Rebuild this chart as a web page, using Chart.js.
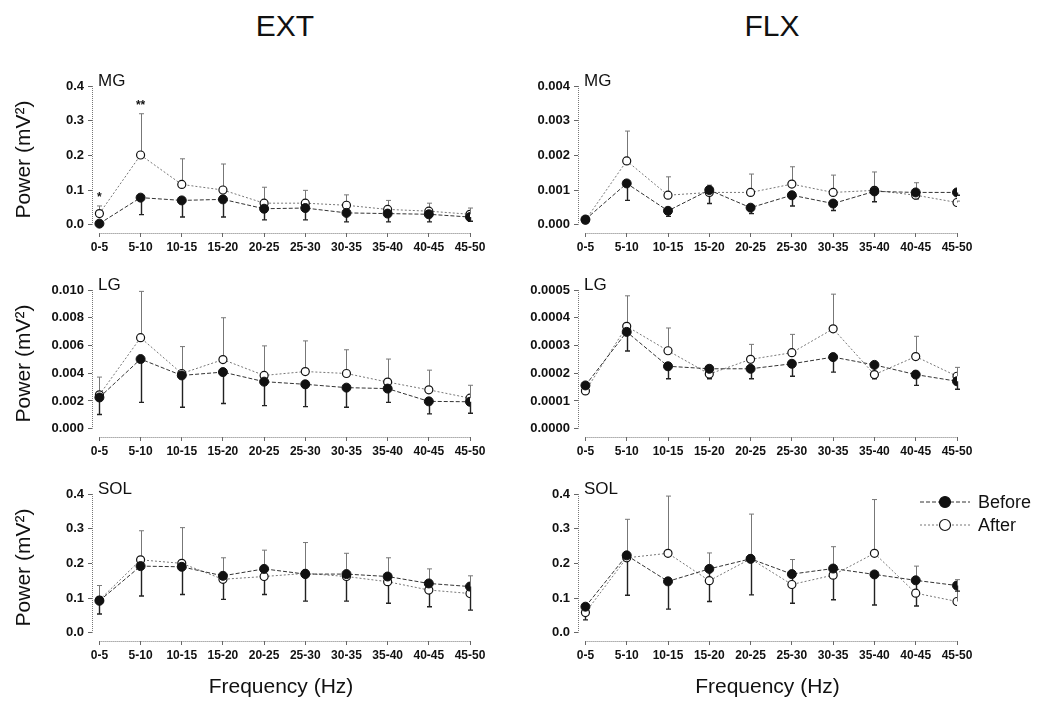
<!DOCTYPE html>
<html>
<head>
<meta charset="utf-8">
<title>EXT / FLX power spectra</title>
<script src="https://cdn.jsdelivr.net/npm/chart.js@4.4.0/dist/chart.umd.min.js"></script>
<style>
  html, body { margin: 0; padding: 0; background: #fff; }
  body { width: 1037px; height: 702px; position: relative; overflow: hidden;
         font-family: "Liberation Sans", Arial, sans-serif; color: #111; }
  .col-title { position: absolute; top: 11px; width: 200px; text-align: center;
               font-size: 30px; line-height: 30px; }
  canvas { position: absolute; }
</style>
</head>
<body>
<div class="col-title" style="left:185px">EXT</div>
<div class="col-title" style="left:672px">FLX</div>

<canvas id="extMg"></canvas>
<canvas id="flxMg"></canvas>
<canvas id="extLg"></canvas>
<canvas id="flxLg"></canvas>
<canvas id="extSol"></canvas>
<canvas id="flxSol"></canvas>

<script>
const categories = ['0-5', '5-10', '10-15', '15-20', '20-25', '25-30', '30-35', '35-40', '40-45', '45-50'];

// EXT - MG
const extMgBefore   = [0.003, 0.078, 0.070, 0.073, 0.046, 0.048, 0.034, 0.032, 0.030, 0.022];
const extMgBeforeLo = [0.000, 0.029, 0.022, 0.022, 0.014, 0.014, 0.008, 0.008, 0.008, 0.010];
const extMgAfter    = [0.032, 0.201, 0.116, 0.100, 0.062, 0.062, 0.056, 0.044, 0.039, 0.030];
const extMgAfterHi  = [0.054, 0.320, 0.190, 0.175, 0.108, 0.099, 0.086, 0.070, 0.062, 0.048];
const extMgSig      = ['*', '**', '', '', '', '', '', '', '', ''];
const extMgTicks    = [0, 0.1, 0.2, 0.3, 0.4];

// FLX - MG
const flxMgBefore   = [0.00015, 0.00119, 0.00040, 0.00100, 0.00049, 0.00085, 0.00061, 0.00096, 0.00093, 0.00093];
const flxMgBeforeLo = [0.00010, 0.00070, 0.00024, 0.00061, 0.00032, 0.00054, 0.00041, 0.00066, 0.00075, 0.00085];
const flxMgAfter    = [0.00013, 0.00184, 0.00085, 0.00093, 0.00093, 0.00117, 0.00093, 0.00099, 0.00085, 0.00064];
const flxMgAfterHi  = [0.00020, 0.00270, 0.00138, 0.00114, 0.00146, 0.00167, 0.00143, 0.00152, 0.00121, 0.00068];
const flxMgTicks    = [0, 0.001, 0.002, 0.003, 0.004];

// EXT - LG
const extLgBefore   = [0.00225, 0.00502, 0.00384, 0.00408, 0.00339, 0.00320, 0.00296, 0.00289, 0.00197, 0.00194];
const extLgBeforeLo = [0.00102, 0.00190, 0.00154, 0.00182, 0.00166, 0.00159, 0.00154, 0.00190, 0.00107, 0.00111];
const extLgAfter    = [0.00244, 0.00656, 0.00398, 0.00498, 0.00384, 0.00412, 0.00398, 0.00336, 0.00280, 0.00220];
const extLgAfterHi  = [0.00372, 0.00990, 0.00592, 0.00800, 0.00597, 0.00633, 0.00569, 0.00502, 0.00422, 0.00313];
const extLgTicks    = [0, 0.002, 0.004, 0.006, 0.008, 0.010];

// FLX - LG
const flxLgBefore   = [0.000156, 0.000349, 0.000225, 0.000216, 0.000216, 0.000234, 0.000258, 0.000230, 0.000195, 0.000171];
const flxLgBeforeLo = [0.000124, 0.000280, 0.000180, 0.000180, 0.000180, 0.000189, 0.000204, 0.000180, 0.000156, 0.000142];
const flxLgAfter    = [0.000136, 0.000369, 0.000281, 0.000197, 0.000250, 0.000274, 0.000360, 0.000195, 0.000260, 0.000189];
const flxLgAfterHi  = [0.000140, 0.000479, 0.000363, 0.000215, 0.000304, 0.000340, 0.000485, 0.000195, 0.000333, 0.000221];
const flxLgTicks    = [0, 0.0001, 0.0002, 0.0003, 0.0004, 0.0005];

// EXT - SOL
const extSolBefore   = [0.092, 0.192, 0.190, 0.164, 0.184, 0.169, 0.169, 0.162, 0.142, 0.133];
const extSolBeforeLo = [0.054, 0.106, 0.110, 0.096, 0.110, 0.091, 0.091, 0.085, 0.075, 0.065];
const extSolAfter    = [0.094, 0.210, 0.200, 0.154, 0.162, 0.171, 0.162, 0.147, 0.123, 0.113];
const extSolAfterHi  = [0.136, 0.294, 0.303, 0.216, 0.238, 0.260, 0.229, 0.216, 0.184, 0.164];
const extSolTicks    = [0, 0.1, 0.2, 0.3, 0.4];

// FLX - SOL
const flxSolBefore   = [0.075, 0.223, 0.148, 0.184, 0.213, 0.169, 0.185, 0.168, 0.151, 0.136];
const flxSolBeforeLo = [0.037, 0.108, 0.068, 0.090, 0.109, 0.085, 0.095, 0.080, 0.077, 0.120];
const flxSolAfter    = [0.058, 0.216, 0.229, 0.150, 0.213, 0.139, 0.166, 0.229, 0.114, 0.090];
const flxSolAfterHi  = [0.075, 0.327, 0.394, 0.230, 0.342, 0.211, 0.248, 0.384, 0.192, 0.153];
const flxSolTicks    = [0, 0.1, 0.2, 0.3, 0.4];

const FONT = '"Liberation Sans", Arial, sans-serif';

// page layout of each panel's plot area
const colLeft  = { ext: 92, flx: 578 };
const colRight = { ext: 470, flx: 957 };
const yWidth   = { ext: 90, flx: 60 };
const rowTop   = [86, 290, 494];
const rowAxis  = [233, 437, 641];
const PAD_TOP = 16;

const panels = [
  { id: 'extMg', col: 'ext', row: 0, label: 'MG', dec: 1, ticks: extMgTicks,
    before: extMgBefore, beforeLo: extMgBeforeLo, after: extMgAfter, afterHi: extMgAfterHi, sig: extMgSig },
  { id: 'flxMg', col: 'flx', row: 0, label: 'MG', dec: 3, ticks: flxMgTicks,
    before: flxMgBefore, beforeLo: flxMgBeforeLo, after: flxMgAfter, afterHi: flxMgAfterHi },
  { id: 'extLg', col: 'ext', row: 1, label: 'LG', dec: 3, ticks: extLgTicks,
    before: extLgBefore, beforeLo: extLgBeforeLo, after: extLgAfter, afterHi: extLgAfterHi },
  { id: 'flxLg', col: 'flx', row: 1, label: 'LG', dec: 4, ticks: flxLgTicks,
    before: flxLgBefore, beforeLo: flxLgBeforeLo, after: flxLgAfter, afterHi: flxLgAfterHi },
  { id: 'extSol', col: 'ext', row: 2, label: 'SOL', dec: 1, ticks: extSolTicks,
    before: extSolBefore, beforeLo: extSolBeforeLo, after: extSolAfter, afterHi: extSolAfterHi },
  { id: 'flxSol', col: 'flx', row: 2, label: 'SOL', dec: 1, ticks: flxSolTicks, legend: true,
    before: flxSolBefore, beforeLo: flxSolBeforeLo, after: flxSolAfter, afterHi: flxSolAfterHi }
];

// dotted, detached axis lines (y from 0 to max, x from first to last category)
const axisLines = {
  id: 'axisLines',
  beforeDatasetsDraw(chart) {
    const { ctx, scales: { x, y }, chartArea } = chart;
    ctx.save();
    ctx.strokeStyle = '#777';
    ctx.lineWidth = 1;
    ctx.setLineDash([1, 1]);
    ctx.beginPath();
    ctx.moveTo(chartArea.left + 0.5, y.getPixelForValue(y.max));
    ctx.lineTo(chartArea.left + 0.5, y.getPixelForValue(0));
    ctx.moveTo(x.getPixelForValue(0), chartArea.bottom + 0.5);
    ctx.lineTo(x.getPixelForValue(categories.length - 1), chartArea.bottom + 0.5);
    ctx.stroke();
    ctx.restore();
  }
};

// one-sided error bars: After upward, Before downward
const errorBars = {
  id: 'errorBars',
  beforeDatasetsDraw(chart) {
    const { ctx, scales: { x, y } } = chart;
    ctx.save();
    chart.data.datasets.forEach(ds => {
      ctx.strokeStyle = ds.errColor;
      ctx.lineWidth = ds.errWidth;
      ds.data.forEach((p, i) => {
        const to = ds.errTo[i];
        if (to === p.y) return;
        const px = Math.round(x.getPixelForValue(p.x)) + 0.5;
        const y0 = y.getPixelForValue(p.y);
        const y1 = y.getPixelForValue(to);
        ctx.beginPath();
        ctx.moveTo(px, y0);
        ctx.lineTo(px, y1);
        ctx.moveTo(px - 2.5, y1);
        ctx.lineTo(px + 2.5, y1);
        ctx.stroke();
      });
      if (ds.sig) {
        ctx.fillStyle = '#111';
        ctx.font = 'bold 12px ' + FONT;
        ctx.textAlign = 'center';
        ctx.textBaseline = 'bottom';
        ds.sig.forEach((s, i) => {
          if (!s) return;
          ctx.fillText(s, x.getPixelForValue(i), y.getPixelForValue(ds.errTo[i]) - 2);
        });
      }
    });
    ctx.restore();
  }
};

const panelText = {
  id: 'panelText',
  afterDraw(chart, args, opts) {
    const { ctx, chartArea, scales: { y } } = chart;
    ctx.save();
    ctx.fillStyle = '#111';
    ctx.font = '17px ' + FONT;
    ctx.textBaseline = 'alphabetic';
    ctx.fillText(opts.text, chartArea.left + 6, y.getPixelForValue(y.max));
    if (opts.legend) {
      const x0 = chartArea.right - 37;
      let y0 = chartArea.top + 8;
      ['Before', 'After'].forEach(name => {
        const ds = chart.data.datasets.find(d => d.label === name);
        ctx.strokeStyle = ds.borderColor;
        ctx.lineWidth = 1;
        ctx.setLineDash(ds.borderDash);
        ctx.beginPath();
        ctx.moveTo(x0, y0);
        ctx.lineTo(x0 + 50, y0);
        ctx.stroke();
        ctx.setLineDash([]);
        ctx.beginPath();
        ctx.arc(x0 + 25, y0, 5.5, 0, Math.PI * 2);
        ctx.fillStyle = ds.pointBackgroundColor;
        ctx.fill();
        ctx.strokeStyle = ds.pointBorderColor;
        ctx.lineWidth = 1.2;
        ctx.stroke();
        ctx.fillStyle = '#111';
        ctx.font = '18px ' + FONT;
        ctx.textBaseline = 'middle';
        ctx.fillText(name, x0 + 58, y0 + 1);
        y0 += 23;
      });
    }
    ctx.restore();
  }
};

panels.forEach(p => {
  const isBottom = p.row === 2;
  const xh = isBottom ? 60 : 25;
  const padRight = p.legend ? 80 : 25;
  const left = colLeft[p.col] - yWidth[p.col];
  const top = rowTop[p.row] - PAD_TOP;
  const w = yWidth[p.col] + (colRight[p.col] - colLeft[p.col]) + padRight;
  const h = PAD_TOP + (rowAxis[p.row] - rowTop[p.row]) + xh;
  const canvas = document.getElementById(p.id);
  canvas.width = w;
  canvas.height = h;
  canvas.style.left = left + 'px';
  canvas.style.top = top + 'px';

  const yMax = p.ticks[p.ticks.length - 1];

  new Chart(canvas, {
    type: 'line',
    data: {
      datasets: [
        {
          label: 'After',
          data: p.after.map((v, i) => ({ x: i, y: v })),
          errTo: p.afterHi, errColor: '#777', errWidth: 1, sig: p.sig,
          borderColor: '#777', borderWidth: 1, borderDash: [2, 2],
          pointRadius: 4, pointBackgroundColor: '#fff', pointBorderColor: '#111', pointBorderWidth: 1.2,
          tension: 0, order: 2
        },
        {
          label: 'Before',
          data: p.before.map((v, i) => ({ x: i, y: v })),
          errTo: p.beforeLo, errColor: '#222', errWidth: 1.4,
          borderColor: '#333', borderWidth: 1, borderDash: [4, 2],
          pointRadius: 4.5, pointBackgroundColor: '#111', pointBorderColor: '#111', pointBorderWidth: 1,
          tension: 0, order: 1
        }
      ]
    },
    options: {
      responsive: false,
      animation: false,
      events: [],
      layout: { padding: { top: PAD_TOP, right: padRight, left: 0, bottom: 0 } },
      plugins: {
        legend: { display: false },
        tooltip: { enabled: false },
        panelText: { text: p.label, legend: !!p.legend }
      },
      scales: {
        x: {
          type: 'linear',
          min: -0.18,
          max: categories.length - 1,
          afterBuildTicks: s => { s.ticks = categories.map((c, i) => ({ value: i })); },
          afterFit: s => { s.height = xh; },
          ticks: {
            callback: v => categories[v],
            autoSkip: false, maxRotation: 0, padding: 3,
            color: '#111', font: { family: FONT, size: 12, weight: 'bold' }
          },
          grid: { drawOnChartArea: false, tickLength: 4, color: '#666' },
          border: { display: false },
          title: {
            display: isBottom, text: 'Frequency (Hz)', color: '#111',
            font: { family: FONT, size: 21 }, padding: { top: 0, bottom: 1 }
          }
        },
        y: {
          min: -0.06 * yMax,
          max: yMax,
          afterBuildTicks: s => { s.ticks = p.ticks.map(v => ({ value: v })); },
          afterFit: s => { s.width = yWidth[p.col]; },
          ticks: {
            callback: v => v.toFixed(p.dec), padding: 4,
            color: '#111', font: { family: FONT, size: 13, weight: 'bold' }
          },
          grid: { drawOnChartArea: false, tickLength: 4, color: '#666' },
          border: { display: false },
          title: {
            display: p.col === 'ext', text: 'Power (mV²)', color: '#111',
            font: { family: FONT, size: 21 }, padding: { top: 10, bottom: 0 }
          }
        }
      }
    },
    plugins: [axisLines, errorBars, panelText]
  });
});
</script>
</body>
</html>
